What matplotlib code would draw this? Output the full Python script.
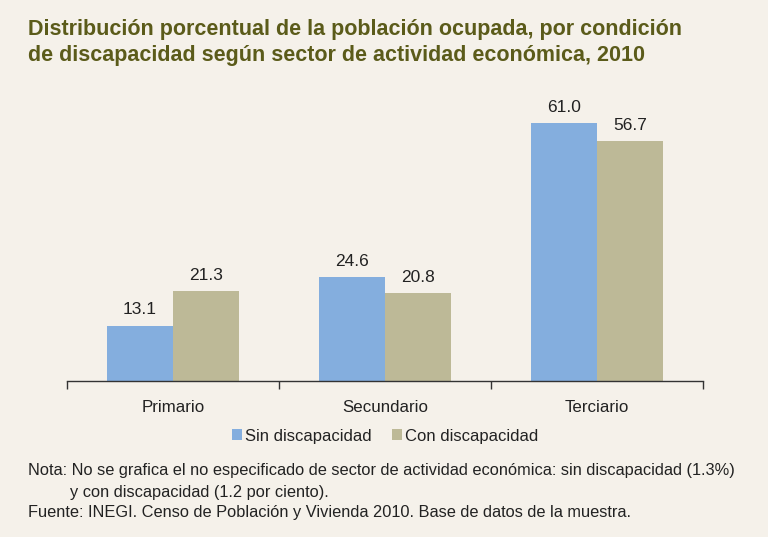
import matplotlib
matplotlib.use("Agg")
import matplotlib.pyplot as plt
import numpy as np

categories = ["Primario", "Secundario", "Terciario"]
sin_disc = [13.1, 24.6, 61.0]
con_disc = [21.3, 20.8, 56.7]
series_names = ["Sin discapacidad", "Con discapacidad"]

BG = "#F5F1EA"
BLUE = "#84AEDE"
TAN = "#BDB997"
TITLE_C = "#5B5B1A"
FONT = ["Liberation Sans", "DejaVu Sans"]
plt.rcParams["font.family"] = FONT

W, H = 768, 537
fig = plt.figure(figsize=(W / 100, H / 100), dpi=100, facecolor=BG)

def fx(px):
    return px / W

def fy(py):
    return 1 - py / H

ax_left, ax_right = 67, 703
ax_bottom, ax_top = 381, 85
ax = fig.add_axes([fx(ax_left), fy(ax_bottom), fx(ax_right - ax_left), (ax_bottom - ax_top) / H])
ax.set_facecolor(BG)

x = np.arange(len(categories))
w = 0.311
b1 = ax.bar(x - w / 2, sin_disc, w, color=BLUE, label=series_names[0])
b2 = ax.bar(x + w / 2, con_disc, w, color=TAN, label=series_names[1])
ax.set_xlim(-0.5, len(categories) - 0.5)
ax.set_ylim(0, 70)

for bars, vals in ((b1, sin_disc), (b2, con_disc)):
    for r, v in zip(bars, vals):
        ax.annotate(f"{v:.1f}", (r.get_x() + r.get_width() / 2, v), xytext=(0, 6),
                    textcoords="offset points", ha="center", va="bottom",
                    fontsize=12.5, color="#222222")

for s in ("top", "right", "left"):
    ax.spines[s].set_visible(False)
ax.spines["bottom"].set_color("#333333")
ax.spines["bottom"].set_linewidth(1.0)
ax.set_yticks([])
ax.set_xticks(np.arange(len(categories) + 1) - 0.5, minor=False)
ax.set_xticklabels([])
ax.tick_params(axis="x", direction="out", length=6, color="#333333", width=1.0)
for xi, c in zip(x, categories):
    ax.text(xi, -0.088, c, transform=ax.get_xaxis_transform(), ha="center", va="center",
            fontsize=12.2, color="#222222")

leg = fig.legend(handles=[b1, b2], labels=series_names, loc="center", bbox_to_anchor=(fx(385), fy(436)),
                 ncol=2, frameon=False, fontsize=12, handlelength=0.6, handleheight=0.6,
                 handletextpad=0.2, columnspacing=1.2)
for t in leg.get_texts():
    t.set_color("#222222")

fig.text(fx(28), fy(30), "Distribución porcentual de la población ocupada, por condición",
         fontsize=15.5, fontweight="bold", color=TITLE_C, ha="left", va="center")
fig.text(fx(28), fy(56), "de discapacidad según sector de actividad económica, 2010",
         fontsize=15.5, fontweight="bold", color=TITLE_C, ha="left", va="center")

fig.text(fx(28), fy(471), "Nota: No se grafica el no especificado de sector de actividad económica: sin discapacidad (1.3%)",
         fontsize=11.8, color="#222222", ha="left", va="center")
fig.text(fx(70), fy(492), "y con discapacidad (1.2 por ciento).",
         fontsize=11.8, color="#222222", ha="left", va="center")
fig.text(fx(28), fy(513), "Fuente: INEGI. Censo de Población y Vivienda 2010. Base de datos de la muestra.",
         fontsize=11.8, color="#222222", ha="left", va="center")

fig.savefig("out.png", dpi=100, facecolor=BG)
